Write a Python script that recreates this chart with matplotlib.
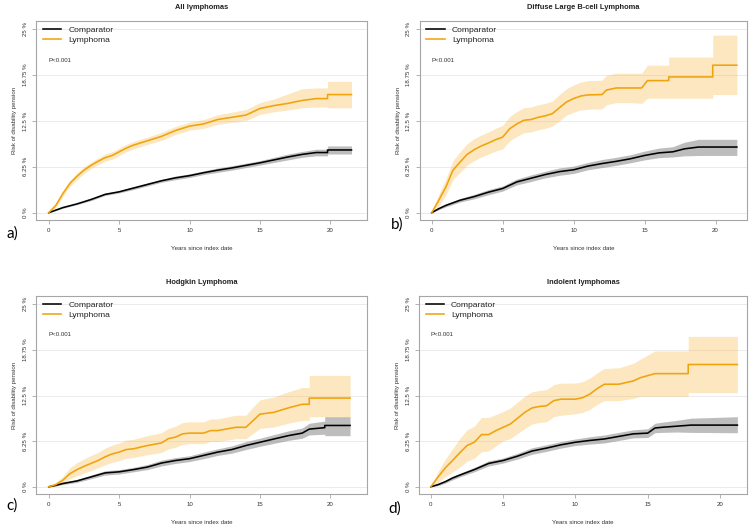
import matplotlib
matplotlib.use("Agg")
import matplotlib.pyplot as plt

# ---------------------------------------------------------------------------
# Data (cumulative risk of disability pension, %)
# ---------------------------------------------------------------------------
TITLES = ["All lymphomas", "Diffuse Large B-cell Lymphoma",
          "Hodgkin Lymphoma", "Indolent lymphomas"]
PANEL_TAGS = ["a)", "b)", "c)", "d)"]
Y_TICKS = [0, 6.25, 12.5, 18.75, 25]
Y_TICK_LABELS = ["0 %", "6.25 %", "12.5 %", "18.75 %", "25 %"]
X_TICKS = [0, 5, 10, 15, 20]

# a) All lymphomas
a_lym_t = [0, 0.5, 1, 1.5, 2, 2.5, 3, 3.5, 4, 4.5, 5, 5.5, 6, 7, 8, 9, 10, 11, 12, 13, 14, 15, 16, 17, 18, 19, 19.8, 19.8, 21.5]
a_lym = [0, 1.0, 2.6, 4.0, 4.95, 5.8, 6.45, 7.0, 7.5, 7.8, 8.3, 8.8, 9.2, 9.8, 10.4, 11.2, 11.8, 12.1, 12.7, 13.0, 13.3, 14.2, 14.6, 14.9, 15.3, 15.55, 15.55, 16.1, 16.1]
a_lym_lo = [0, 0.7, 2.2, 3.6, 4.5, 5.35, 6.0, 6.55, 7.0, 7.3, 7.8, 8.3, 8.7, 9.3, 9.85, 10.65, 11.25, 11.5, 12.05, 12.3, 12.55, 13.4, 13.75, 14.0, 14.3, 14.4, 14.4, 14.3, 14.3]
a_lym_hi = [0, 1.3, 3.0, 4.4, 5.4, 6.25, 6.9, 7.45, 8.0, 8.3, 8.8, 9.3, 9.7, 10.3, 10.95, 11.75, 12.35, 12.7, 13.35, 13.7, 14.05, 15.0, 15.5, 16.2, 16.9, 17.0, 17.0, 17.9, 17.9]
a_cmp_t = [0, 1, 2, 3, 4, 5, 6, 7, 8, 9, 10, 11, 12, 13, 14, 15, 16, 17, 18, 19, 19.8, 19.8, 21.5]
a_cmp = [0, 0.7, 1.2, 1.8, 2.5, 2.85, 3.35, 3.85, 4.35, 4.75, 5.05, 5.45, 5.8, 6.1, 6.45, 6.8, 7.2, 7.6, 7.95, 8.2, 8.2, 8.55, 8.55]
a_cmp_lo = [0, 0.6, 1.1, 1.65, 2.35, 2.7, 3.15, 3.65, 4.15, 4.5, 4.8, 5.2, 5.5, 5.8, 6.15, 6.5, 6.85, 7.2, 7.55, 7.75, 7.75, 8.0, 8.0]
a_cmp_hi = [0, 0.8, 1.3, 1.95, 2.65, 3.0, 3.55, 4.05, 4.55, 5.0, 5.3, 5.7, 6.1, 6.4, 6.75, 7.1, 7.55, 8.0, 8.35, 8.65, 8.65, 9.1, 9.1]

# b) Diffuse large B-cell lymphoma
b_lym_t = [0, 0.5, 1, 1.5, 2, 2.5, 3, 3.5, 4, 4.5, 5, 5.5, 6, 6.5, 7, 7.5, 8, 8.5, 9, 9.5, 10, 10.5, 11, 12, 12.3, 13, 14, 14.8, 15.2, 16.7, 16.7, 19.8, 19.8, 21.5]
b_lym = [0, 1.7, 3.5, 5.8, 6.9, 7.95, 8.6, 9.1, 9.5, 9.95, 10.3, 11.45, 12.1, 12.6, 12.7, 13.0, 13.2, 13.5, 14.3, 15.1, 15.55, 15.9, 16.05, 16.1, 16.7, 17.0, 17.0, 17.0, 18.0, 18.0, 18.5, 18.5, 20.1, 20.1]
b_lym_lo = [0, 0.9, 2.4, 4.5, 5.5, 6.5, 7.1, 7.6, 8.0, 8.4, 8.7, 9.8, 10.4, 10.9, 11.0, 11.3, 11.5, 11.8, 12.5, 13.3, 13.7, 14.0, 14.1, 14.15, 14.7, 15.0, 15.0, 14.9, 15.6, 15.6, 15.6, 15.6, 16.1, 16.1]
b_lym_hi = [0, 2.5, 4.6, 7.1, 8.3, 9.4, 10.1, 10.6, 11.0, 11.5, 11.9, 13.1, 13.8, 14.3, 14.4, 14.7, 14.9, 15.2, 16.1, 16.9, 17.4, 17.8, 18.0, 18.05, 18.7, 19.0, 19.0, 19.0, 20.1, 20.1, 21.2, 21.2, 24.2, 24.2]
b_cmp_t = [0, 0.5, 1, 2, 3, 4, 5, 6, 7, 8, 9, 10, 11, 12, 13, 14, 15, 16, 17, 17.8, 18.8, 21.5]
b_cmp = [0, 0.55, 1.0, 1.7, 2.2, 2.8, 3.3, 4.2, 4.7, 5.2, 5.6, 5.85, 6.35, 6.7, 7.0, 7.35, 7.8, 8.15, 8.3, 8.7, 8.95, 8.95]
b_cmp_lo = [0, 0.4, 0.8, 1.45, 1.9, 2.45, 2.95, 3.8, 4.25, 4.75, 5.1, 5.35, 5.85, 6.15, 6.45, 6.8, 7.2, 7.5, 7.6, 7.75, 7.8, 7.8]
b_cmp_hi = [0, 0.7, 1.2, 1.95, 2.5, 3.15, 3.65, 4.6, 5.15, 5.65, 6.1, 6.35, 6.85, 7.25, 7.55, 7.9, 8.4, 8.8, 9.0, 9.6, 10.0, 10.0]

# c) Hodgkin lymphoma
c_lym_t = [0, 0.5, 1, 1.5, 2, 2.5, 3, 3.5, 4, 4.5, 5, 5.5, 6, 7, 8, 8.5, 9, 9.5, 10, 11, 11.5, 12, 13, 13.3, 14, 14.5, 15, 16, 17, 18, 18.5, 18.5, 21.4]
c_lym = [0, 0.3, 0.9, 1.8, 2.35, 2.8, 3.2, 3.6, 4.1, 4.5, 4.75, 5.1, 5.2, 5.65, 6.0, 6.6, 6.8, 7.25, 7.35, 7.35, 7.7, 7.7, 8.05, 8.15, 8.15, 9.05, 9.95, 10.2, 10.8, 11.3, 11.3, 12.15, 12.15]
c_lym_lo = [0, 0.1, 0.5, 1.1, 1.5, 1.9, 2.2, 2.6, 3.0, 3.35, 3.6, 3.9, 4.0, 4.4, 4.7, 5.2, 5.4, 5.8, 5.9, 5.9, 6.2, 6.2, 6.5, 6.6, 6.6, 7.3, 8.0, 8.2, 8.7, 9.1, 9.1, 9.6, 9.6]
c_lym_hi = [0, 0.6, 1.4, 2.6, 3.3, 3.8, 4.3, 4.7, 5.3, 5.7, 6.0, 6.4, 6.5, 7.0, 7.4, 8.0, 8.3, 8.8, 8.9, 8.9, 9.3, 9.3, 9.7, 9.8, 9.8, 10.9, 11.9, 12.3, 13.0, 13.6, 13.6, 15.25, 15.25]
c_cmp_t = [0, 0.5, 1, 2, 3, 4, 5, 6, 7, 8, 9, 10, 11, 12, 13, 14, 15, 16, 17, 18, 18.5, 19.6, 19.6, 21.4]
c_cmp = [0, 0.2, 0.45, 0.8, 1.35, 1.9, 2.05, 2.35, 2.7, 3.25, 3.6, 3.85, 4.3, 4.75, 5.1, 5.65, 6.1, 6.55, 7.0, 7.35, 7.9, 8.1, 8.4, 8.4]
c_cmp_lo = [0, 0.1, 0.3, 0.6, 1.1, 1.6, 1.75, 2.05, 2.35, 2.85, 3.2, 3.45, 3.85, 4.3, 4.6, 5.1, 5.55, 5.95, 6.35, 6.65, 7.1, 7.2, 7.0, 7.0]
c_cmp_hi = [0, 0.3, 0.6, 1.0, 1.6, 2.2, 2.35, 2.65, 3.05, 3.65, 4.0, 4.25, 4.75, 5.2, 5.6, 6.2, 6.65, 7.15, 7.65, 8.05, 8.7, 9.0, 9.6, 9.6]

# d) Indolent lymphomas
d_lym_t = [0, 0.5, 1, 1.5, 2, 2.5, 3, 3.5, 4, 4.5, 5, 5.5, 6, 6.5, 7, 7.5, 8, 8.5, 9, 10, 10.5, 11, 11.5, 12, 13, 14, 14.5, 15.5, 17.8, 17.8, 21.2]
d_lym = [0, 1.35, 2.6, 3.6, 4.65, 5.65, 6.1, 7.15, 7.15, 7.7, 8.15, 8.6, 9.4, 10.2, 10.8, 11.0, 11.1, 11.8, 12.0, 12.0, 12.2, 12.7, 13.45, 14.05, 14.05, 14.5, 14.95, 15.5, 15.5, 16.75, 16.75]
d_lym_lo = [0, 0.6, 1.4, 2.0, 2.7, 3.5, 3.9, 4.8, 4.9, 5.6, 6.3, 6.6, 7.3, 8.0, 8.6, 8.8, 8.9, 9.6, 9.8, 10.0, 10.2, 10.6, 11.3, 11.8, 11.8, 12.1, 12.4, 12.4, 12.4, 12.9, 12.9]
d_lym_hi = [0, 2.1, 3.8, 5.2, 6.6, 7.8, 8.3, 9.5, 9.5, 9.9, 10.3, 10.8, 11.6, 12.4, 13.0, 13.2, 13.3, 14.0, 14.2, 14.2, 14.4, 14.9, 15.6, 16.2, 16.3, 16.9, 17.5, 18.6, 18.6, 20.6, 20.6]
d_cmp_t = [0, 0.5, 1, 1.5, 2, 3, 4, 5, 6, 7, 8, 9, 10, 11, 12, 13, 14, 15, 15.5, 16, 17, 18, 21.2]
d_cmp = [0, 0.3, 0.7, 1.2, 1.6, 2.35, 3.2, 3.6, 4.2, 4.9, 5.3, 5.75, 6.1, 6.35, 6.55, 6.9, 7.25, 7.35, 8.05, 8.15, 8.3, 8.45, 8.45]
d_cmp_lo = [0, 0.15, 0.5, 0.95, 1.35, 2.05, 2.85, 3.25, 3.8, 4.45, 4.85, 5.3, 5.65, 5.85, 6.0, 6.35, 6.7, 6.75, 7.4, 7.45, 7.5, 7.45, 7.4]
d_cmp_hi = [0, 0.45, 0.9, 1.45, 1.85, 2.65, 3.55, 3.95, 4.6, 5.35, 5.75, 6.2, 6.55, 6.85, 7.1, 7.45, 7.8, 7.95, 8.7, 8.85, 9.1, 9.4, 9.6]

PANELS = [
    (a_lym_t, a_lym, a_lym_lo, a_lym_hi, a_cmp_t, a_cmp, a_cmp_lo, a_cmp_hi),
    (b_lym_t, b_lym, b_lym_lo, b_lym_hi, b_cmp_t, b_cmp, b_cmp_lo, b_cmp_hi),
    (c_lym_t, c_lym, c_lym_lo, c_lym_hi, c_cmp_t, c_cmp, c_cmp_lo, c_cmp_hi),
    (d_lym_t, d_lym, d_lym_lo, d_lym_hi, d_cmp_t, d_cmp, d_cmp_lo, d_cmp_hi),
]

# ---------------------------------------------------------------------------
# Styling
# ---------------------------------------------------------------------------
ORANGE = "#F0A30A"
ORANGE_BAND = "#F6B030"
GREY_BAND = "#888888"
BOX = "#A6A6A6"
TXT = "#333333"
plt.rcParams["font.family"] = ["Liberation Sans", "DejaVu Sans"]

# axes rectangles in figure fractions (left, bottom, width, height)
AX_RECTS = [
    (0.048, 0.584, 0.440, 0.376),
    (0.558, 0.584, 0.436, 0.376),
    (0.048, 0.066, 0.440, 0.374),
    (0.557, 0.066, 0.437, 0.374),
]
X_LIMS = [(-0.9, 22.6), (-0.85, 22.25), (-0.9, 22.6), (-0.83, 21.9)]
TAG_POS = [(0.008, 0.558), (0.520, 0.575), (0.008, 0.045), (0.517, 0.038)]


def draw_panel(ax, data, title, xlim):
    lt, ly, llo, lhi, ct, cy, clo, chi = data
    ax.set_xlim(*xlim)
    ax.set_ylim(-1.0, 26.1)
    for y in Y_TICKS:
        ax.axhline(y, color="#EBEBEB", lw=0.7, zorder=0)
    ax.fill_between(ct, clo, chi, color=GREY_BAND, alpha=0.55, lw=0, zorder=1)
    ax.fill_between(lt, llo, lhi, color=ORANGE_BAND, alpha=0.3, lw=0, zorder=2)
    ax.plot(ct, cy, color="black", lw=1.15, zorder=3, label="Comparator")
    ax.plot(lt, ly, color=ORANGE, lw=1.15, zorder=4, label="Lymphoma")

    ax.set_xticks(X_TICKS)
    ax.set_yticks(Y_TICKS)
    ax.set_yticklabels(Y_TICK_LABELS, rotation=90, va="center")
    ax.tick_params(labelsize=4.4, colors=BOX, labelcolor=TXT, length=3, width=0.6, pad=3)
    for sp in ax.spines.values():
        sp.set_color(BOX)
        sp.set_linewidth(0.8)
    ax.set_title(title, fontsize=5.4, fontweight="bold", color="#222222", pad=9)
    ax.set_xlabel("Years since index date", fontsize=4.4, color=TXT, labelpad=9)
    ax.set_ylabel("Risk of disability pension", fontsize=4.4, color=TXT, labelpad=4)
    ax.text(0, 20.8, "P<0.001", fontsize=4.4, color=TXT, va="center", ha="left")
    leg = ax.legend(loc="upper left", bbox_to_anchor=(0.005, 1.0), frameon=False,
                    fontsize=6.1, handlelength=2.2, handletextpad=0.8,
                    labelspacing=0.2, borderaxespad=0.2)
    for t in leg.get_texts():
        t.set_color("#222222")


fig = plt.figure(figsize=(7.52, 5.29), dpi=100)
for i in range(4):
    ax = fig.add_axes(AX_RECTS[i])
    draw_panel(ax, PANELS[i], TITLES[i], X_LIMS[i])
    fig.text(TAG_POS[i][0], TAG_POS[i][1], PANEL_TAGS[i], fontsize=11,
             family=["Lato", "DejaVu Sans"], color="black", ha="left", va="center")

fig.savefig("out.png", dpi=100)
